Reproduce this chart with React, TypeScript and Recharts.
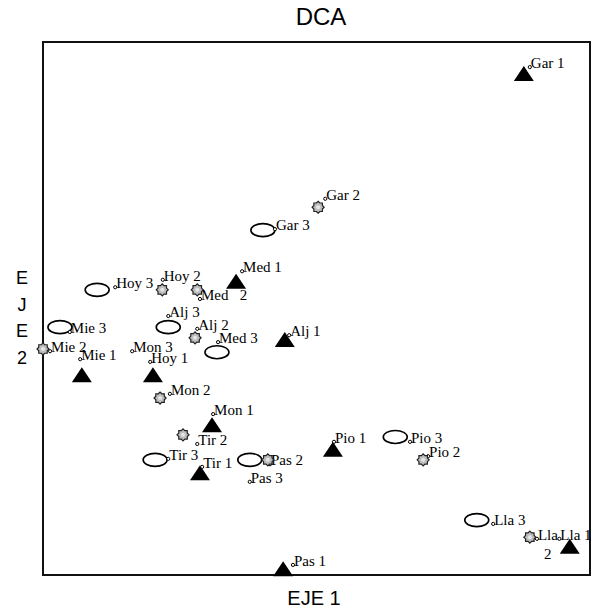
import React from 'react';
import { ScatterChart, Scatter, XAxis, YAxis, ReferenceArea } from 'recharts';

// DCA scores (arbitrary 0-100 axis units)
const site1 = [
  { name: 'Gar 1', x: 87.9, y: 94.0 },
  { name: 'Med 1', x: 35.3, y: 55.0 },
  { name: 'Alj 1', x: 44.2, y: 44.1 },
  { name: 'Mie 1', x: 7.1, y: 37.5 },
  { name: 'Hoy 1', x: 20.1, y: 37.5 },
  { name: 'Mon 1', x: 30.9, y: 28.1 },
  { name: 'Tir 1', x: 28.7, y: 19.1 },
  { name: 'Pio 1', x: 53.0, y: 23.5 },
  { name: 'Pas 1', x: 43.9, y: 1.1 },
  { name: 'Lla 1', x: 96.3, y: 5.3 },
];

const site2 = [
  { name: 'Gar 2', x: 50.3, y: 69.0 },
  { name: 'Hoy 2', x: 21.8, y: 53.5 },
  { name: 'Med 2', x: 28.2, y: 53.5 },
  { name: 'Alj 2', x: 27.8, y: 44.5 },
  { name: 'Mie 2', x: 0.0, y: 42.4 },
  { name: 'Mon 2', x: 21.4, y: 33.2 },
  { name: 'Tir 2', x: 25.6, y: 26.3 },
  { name: 'Pas 2', x: 41.1, y: 21.6 },
  { name: 'Pio 2', x: 69.5, y: 21.6 },
  { name: 'Lla 2', x: 89.0, y: 7.1 },
];

const site3 = [
  { name: 'Gar 3', x: 40.2, y: 64.7 },
  { name: 'Hoy 3', x: 9.9, y: 53.5 },
  { name: 'Alj 3', x: 22.9, y: 46.5 },
  { name: 'Mie 3', x: 3.1, y: 46.5 },
  { name: 'Med 3', x: 31.8, y: 41.8 },
  { name: 'Tir 3', x: 20.5, y: 21.6 },
  { name: 'Pas 3', x: 37.8, y: 21.6 },
  { name: 'Pio 3', x: 64.4, y: 25.9 },
  { name: 'Lla 3', x: 79.3, y: 10.3 },
];

// label anchors (text start / baseline) in axis units
const labels = [
  { text: 'Gar 1', x: 89.0, y: 95.1 },
  { text: 'Med 1', x: 36.4, y: 56.8 },
  { text: 'Alj 1', x: 45.0, y: 44.8 },
  { text: 'Mie 1', x: 6.8, y: 40.3 },
  { text: 'Hoy 1', x: 19.6, y: 39.8 },
  { text: 'Mon 1', x: 31.1, y: 30.0 },
  { text: 'Tir 1', x: 29.1, y: 20.1 },
  { text: 'Pio 1', x: 53.2, y: 24.8 },
  { text: 'Pas 1', x: 45.7, y: 1.7 },
  { text: 'Lla 1', x: 94.4, y: 6.6 },
  { text: 'Gar 2', x: 51.6, y: 70.4 },
  { text: 'Hoy 2', x: 21.9, y: 55.2 },
  { text: 'Med\u00a0\u00a0 2', x: 28.7, y: 51.6 },
  { text: 'Alj 2', x: 28.2, y: 46.0 },
  { text: 'Mie 2', x: 1.3, y: 41.8 },
  { text: 'Mon 2', x: 23.2, y: 33.8 },
  { text: 'Tir 2', x: 28.2, y: 24.4 },
  { text: 'Pas 2', x: 41.5, y: 20.6 },
  { text: 'Pio 2', x: 70.4, y: 22.1 },
  { text: 'Lla\n2', x: 90.3, y: 6.6 },
  { text: 'Gar 3', x: 42.4, y: 64.7 },
  { text: 'Hoy 3', x: 13.2, y: 53.8 },
  { text: 'Alj 3', x: 22.9, y: 48.4 },
  { text: 'Mie 3', x: 4.9, y: 45.4 },
  { text: 'Mon 3', x: 16.3, y: 41.8 },
  { text: 'Med 3', x: 32.0, y: 43.5 },
  { text: 'Tir 3', x: 22.9, y: 21.6 },
  { text: 'Pas 3', x: 37.8, y: 17.3 },
  { text: 'Pio 3', x: 67.1, y: 24.8 },
  { text: 'Lla 3', x: 82.3, y: 9.4 },
];

const yTitleLetters = ['E', 'J', 'E', '2'];

const Triangle = (p: any) => {
  const { cx, cy } = p;
  if (cx == null || cy == null) return null;
  return <polygon points={`${cx - 10},${cy + 7} ${cx + 10},${cy + 7} ${cx},${cy - 8}`} fill="#000" />;
};

const Gear = (p: any) => {
  const { cx, cy } = p;
  if (cx == null || cy == null) return null;
  const pts: string[] = [];
  for (let i = 0; i < 16; i++) {
    const a = (i / 16) * Math.PI * 2;
    const r = i % 2 === 0 ? 6 : 4.6;
    pts.push(`${cx + r * Math.cos(a)},${cy + r * Math.sin(a)}`);
  }
  return (
    <g>
      <polygon points={pts.join(' ')} fill="#bdbdbd" stroke="#222" strokeWidth={1.2} />
      <circle cx={cx} cy={cy} r={2} fill="#e6e6e6" />
    </g>
  );
};

const Ellipse = (p: any) => {
  const { cx, cy } = p;
  if (cx == null || cy == null) return null;
  return <ellipse cx={cx} cy={cy} rx={12} ry={6.5} fill="#fff" stroke="#000" strokeWidth={1.6} />;
};

const LabelShape = (p: any) => {
  const { cx, cy, payload } = p;
  if (cx == null || cy == null) return null;
  const lines = String(payload.text).split('\n');
  return (
    <g>
      <circle cx={cx} cy={cy - 1} r={1.6} fill="#fff" stroke="#000" strokeWidth={1} />
      <text x={cx + 1} y={cy} fontFamily="'Liberation Serif', 'Times New Roman', serif" fontSize={15} fill="#000" style={{ whiteSpace: 'pre' }}>
        {lines.map((l, i) => (
          <tspan key={i} x={cx + 1 + (i > 0 ? 6 : 0)} dy={i === 0 ? 0 : 19}>{l}</tspan>
        ))}
      </text>
    </g>
  );
};

export default function App() {
  return (
    <div style={{ position: 'relative', width: 593, height: 608, background: '#fff' }}>
      <style>{`body{margin:0;background:#fff}`}</style>
      <ScatterChart width={593} height={608} margin={{ top: 42, right: 3, bottom: 33, left: 43 }}>
        <XAxis type="number" dataKey="x" domain={[0, 100]} hide />
        <YAxis type="number" dataKey="y" domain={[0, 100]} hide />
        <ReferenceArea x1={0} x2={100} y1={0} y2={100} fill="none" stroke="#111" strokeWidth={2} ifOverflow="visible" />
        <Scatter data={site3} shape={Ellipse} isAnimationActive={false} />
        <Scatter data={site1} shape={Triangle} isAnimationActive={false} />
        <Scatter data={labels} shape={LabelShape} isAnimationActive={false} />
        <Scatter data={site2} shape={Gear} isAnimationActive={false} />
      </ScatterChart>
      <svg width={593} height={608} style={{ position: 'absolute', left: 0, top: 0, pointerEvents: 'none' }}>
        <text x={321} y={25} textAnchor="middle" fontFamily="'Liberation Sans', Arial, sans-serif" fontSize={24} fill="#000">DCA</text>
        <text x={314} y={605} textAnchor="middle" fontFamily="'Liberation Sans', Arial, sans-serif" fontSize={20} fill="#000">EJE 1</text>
        {yTitleLetters.map((l, i) => (
          <text key={i} x={22} y={284 + i * 26.5} textAnchor="middle" fontFamily="'Liberation Sans', Arial, sans-serif" fontSize={18} fill="#000">{l}</text>
        ))}
      </svg>
    </div>
  );
}
